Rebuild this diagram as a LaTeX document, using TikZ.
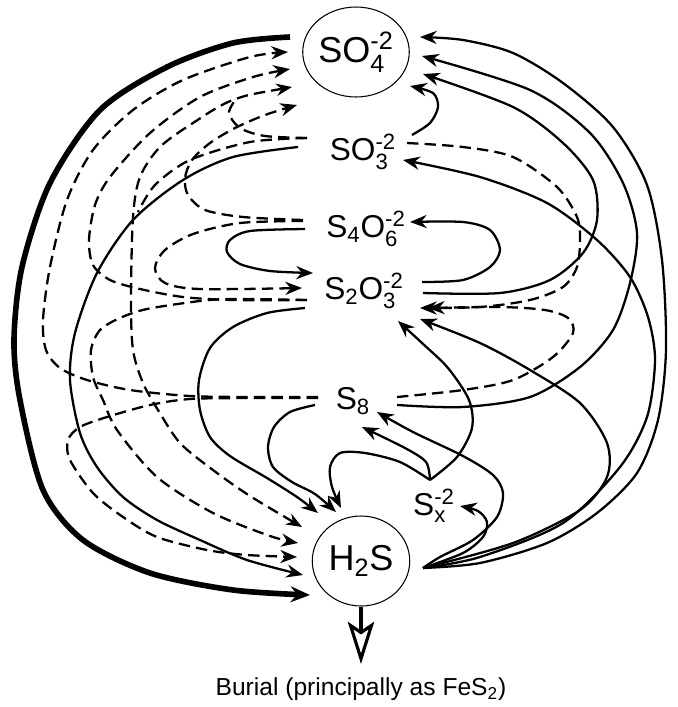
\documentclass[tikz,border=0pt]{standalone}
\usepackage{amsmath}
\usepackage{fontspec}
\setmainfont{Liberation Sans}
\usetikzlibrary{arrows.meta,calc,shapes.geometric}

\tikzset{
  flux/.style={line width=1.3pt,-{Stealth[length=9.5pt,width=7.5pt]}},
  dflux/.style={flux,dash pattern=on 6.5pt off 3.5pt},
  reduct/.style={line width=3.2pt,-{Stealth[length=11pt,width=9pt]}},
  pool/.style={ellipse,draw,line width=0.6pt,minimum width=1.95cm,minimum height=1.8cm,inner sep=0pt,font=\fontsize{20.5}{22}\selectfont},
  species/.style={inner sep=0pt,font=\fontsize{18}{20}\selectfont}
}

\begin{document}
\begin{tikzpicture}[x=0.02cm,y=-0.02cm]
\useasboundingbox (0,0) rectangle (678,707);

% pools and intermediates
\node[pool] (so4) at (356,52) {SO$_{\text{4}}^{\text{-2}}$};
\node[species] (so3) at (363,152) {SO$_{\text{3}}^{\text{-2}}$};
\node[species] (s4o6) at (366,229) {S$_{\text{4}}$O$_{\text{6}}^{\text{-2}}$};
\node[species] (s2o3) at (364,291) {S$_{\text{2}}$O$_{\text{3}}^{\text{-2}}$};
\node[species] (s8) at (353,401) {S$_{\text{8}}$};
\node[species] (sx) at (434,506) {S$_{\text{x}}^{\text{-2}}$};
\node[pool] (h2s) at (361,561) {H$_{\text{2}}$S};
\node[font=\fontsize{14}{16}\selectfont] (burial) at (361,689) {Burial (principally as FeS$_{\text{2}}$)};
\coordinate (fan) at ($(h2s)+(62,7)$);
\coordinate (sink) at (361,664);

% sulfate reduction
\draw[reduct] plot[smooth] coordinates {($(so4)+(-66,-15)$) (233,43) (167,67) (100,110) (50,183) (22,267) (14,340) (20,400) (43,490) (83,540) (150,573) (233,590) ($(h2s)+(-51,34)$)};
\draw[flux] plot[smooth] coordinates {($(so3)+(-65,-5)$) (233,157) (183,180) (133,220) (97,273) (75,333) (70,380) (80,433) (97,467) (123,497) (157,520) (200,540) (247,560) ($(h2s)+(-58,14)$)};

% disproportionation, left side
\draw[dflux] plot[smooth] coordinates {($(s8)+(-35,-4)$) (250,397) (190,396) (130,390) (87,380) (60,368) (46,350) (43,320) (50,267) (67,200) (93,150) (133,110) (183,80) (250,57) ($(so4)+(-68,0)$)};
\draw[dflux] plot[smooth] coordinates {($(s8)+(-35,-3)$) (250,398) (190,399) (150,405) (107,417) (80,427) (68,440) (70,460) (93,493) (123,517) (157,537) (207,550) (247,555) ($(h2s)+(-64,-4)$)};
\draw[dflux] plot[smooth] coordinates {($(s2o3)+(-57,9)$) (233,300) (183,297) (140,289) (110,280) (93,265) (89,240) (95,205) (110,177) (150,133) (200,97) (253,77) ($(so4)+(-66,17)$)};
\draw[dflux] plot[smooth] coordinates {($(s2o3)+(-57,9)$) (233,299) (200,301) (147,309) (120,318) (100,330) (91,350) (93,377) (103,400) (117,430) (157,477) (213,513) (270,536) ($(h2s)+(-63,-18)$)};
\draw[dflux,{Stealth[length=9pt,width=7pt]}-{Stealth[length=9pt,width=7pt]}] plot[smooth] coordinates {($(so4)+(-64,35)$) (233,100) (193,123) (160,147) (140,177) (133,217) (131,300) (133,350) (143,383) (158,410) (180,443) (213,470) (250,496) ($(h2s)+(-59,-34)$)};
\draw[dflux,-] plot[smooth] coordinates {($(so3)+(-56,-14)$) (250,142) (190,160) (155,185) (138,212)};
\draw[dflux,-] plot[smooth] coordinates {($(so3)+(-56,-14)$) (265,136) (240,128) (229,113) (236,99)};
\draw[dflux] plot[smooth] coordinates {($(s4o6)+(-63,-9)$) (243,217) (205,210) (188,195) (185,178) (192,160) (210,143) (235,128) (265,115) ($(so4)+(-59,53)$)};
\draw[dflux] plot[smooth] coordinates {($(s4o6)+(-63,-8)$) (240,223) (193,234) (165,250) (155,268) (165,283) (200,289) ($(s2o3)+(-62,-3)$)};

% reduction loops into H2S
\draw[flux] plot[smooth] coordinates {($(s4o6)+(-61,0)$) (250,231) (230,240) (227,252) (240,264) (270,271) ($(s2o3)+(-51,-18)$)};
\draw[flux] plot[smooth] coordinates {($(s2o3)+(-59,17)$) (267,313) (233,327) (210,348) (199,380) (200,410) (210,437) (230,456) (267,478) (297,497) ($(h2s)+(-43,-48)$)};
\draw[flux] plot[smooth] coordinates {($(s8)+(-38,4)$) (290,412) (274,427) (268,447) (273,467) (292,482) (315,494) ($(h2s)+(-25,-49)$)};
\draw[flux] plot[smooth] coordinates {($(sx)+(-4,-26)$) (400,462) (365,453) (340,453) (330,467) (332,487) ($(h2s)+(-20,-53)$)};
\draw[flux] plot[smooth] coordinates {($(sx)+(-4,-26)$) (426,462) (405,448) ($(s8)+(9,26)$)};
\draw[flux] plot[smooth] coordinates {($(sx)+(-4,-26)$) (457,457) (472,428) (469,400) (448,368) (422,343) ($(s2o3)+(34,30)$)};

% oxidation, right side
\draw[flux] plot[smooth] coordinates {(fan) (463,553) (483,537) (487,522) (478,511) ($(sx)+(26,0)$)};
\draw[flux] plot[smooth] coordinates {(fan) (440,557) (473,540) (497,517) (503,493) (493,475) (463,456) (413,432) ($(s8)+(24,11)$)};
\draw[flux] plot[smooth] coordinates {(fan) (513,543) (580,510) (607,477) (607,443) (580,403) (530,370) (480,343) ($(s2o3)+(56,28)$)};
\draw[flux] plot[smooth] coordinates {(fan) (480,557) (563,523) (620,467) (647,417) (655,360) (648,317) (630,277) (597,240) (547,203) (480,177) ($(so3)+(40,8)$)};
\draw[flux] plot[smooth] coordinates {(fan) (480,563) (547,543) (597,513) (637,473) (658,420) (666,350) (662,260) (647,185) (613,127) (563,83) (513,53) (463,40) ($(so4)+(64,-15)$)};
\draw[flux] plot[smooth] coordinates {($(s8)+(44,4)$) (463,407) (530,397) (580,367) (613,330) (630,283) (637,233) (623,183) (590,133) (530,90) ($(so4)+(66,4)$)};
\draw[flux] plot[smooth] coordinates {($(s2o3)+(59,2)$) (500,293) (550,280) (583,253) (597,220) (593,180) (563,143) (513,107) ($(so4)+(67,22)$)};
\draw[flux] plot[smooth] coordinates {($(s2o3)+(58,-9)$) (463,280) (490,267) (500,250) (490,230) (463,222) ($(s4o6)+(44,-7)$)};
\draw[flux] plot[smooth] coordinates {($(so3)+(49,-17)$) (430,123) (438,107) (433,93) ($(so4)+(54,34)$)};
\draw[dflux] plot[smooth] coordinates {($(so3)+(44,-9)$) (463,147) (513,157) (557,187) (577,217) (580,240) (577,267) (563,287) (530,300) (480,307) ($(s2o3)+(56,17)$)};
\draw[dflux] plot[smooth] coordinates {($(s8)+(44,-4)$) (463,390) (513,380) (553,357) (573,333) (568,318) (545,310) (500,307) ($(s2o3)+(64,17)$)};

% burial
\draw[line width=1.8pt,-{Stealth[open,length=24pt,width=15pt,inset=5pt]}] (h2s.south) -- (sink);
\end{tikzpicture}
\end{document}
